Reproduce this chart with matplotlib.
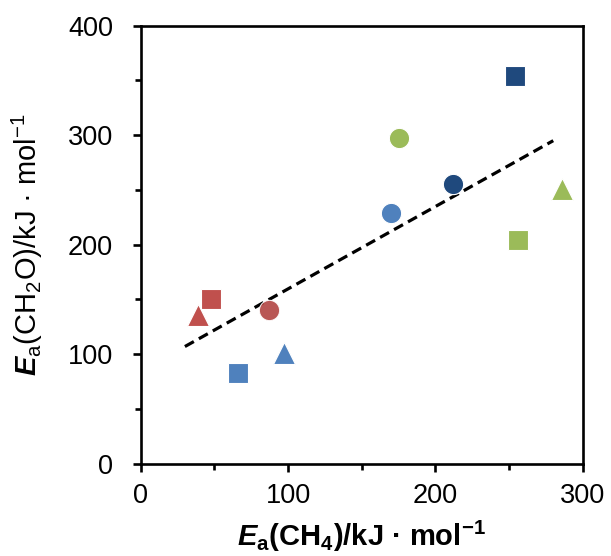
import matplotlib
matplotlib.use("Agg")
import matplotlib.pyplot as plt
from matplotlib.ticker import MultipleLocator

plt.rcParams['font.family'] = ['Liberation Sans', 'DejaVu Sans']
plt.rcParams['mathtext.fontset'] = 'custom'
plt.rcParams['mathtext.rm'] = 'Liberation Sans'
plt.rcParams['mathtext.it'] = 'Liberation Sans:italic'
plt.rcParams['mathtext.bf'] = 'Liberation Sans:bold'
plt.rcParams['mathtext.bfit'] = 'Liberation Sans:bold:italic'

# Data: (Ea(CH4), Ea(CH2O)) grouped by colour and marker
red = '#C0504D'
red_dark = '#B0403D'
blue = '#4F81BD'
navy = '#1F497D'
green = '#9BBB59'

points_x = [39, 48, 87, 66, 97, 170, 212, 254, 175, 286, 256]
points_y = [136, 150, 140, 83, 101, 229, 255, 354, 297, 251, 204]
point_colors = [red, red, red_dark, blue, blue, blue, navy, navy, green, green, green]
point_markers = ['^', 's', 'o', 's', '^', 'o', 'o', 's', 'o', '^', 's']
point_alpha = [1, 1, 0.88, 1, 1, 1, 1, 1, 1, 1, 1]

trend_x = [30, 280]
trend_y = [107, 295]

fig = plt.figure(figsize=(6.11, 5.56), dpi=100)
ax = fig.add_axes([0.2303, 0.166, 0.7234, 0.7878])

ax.plot(trend_x, trend_y, color='black', lw=2.3, dashes=(3.2, 1.8), zorder=2,
        dash_capstyle='butt')

size_map = {'s': 14.4, 'o': 14.6, '^': 15.5}
for x, y, c, m, a in zip(points_x, points_y, point_colors, point_markers, point_alpha):
    ax.plot([x], [y], marker=m, ms=size_map[m], color=c, alpha=a,
            markeredgecolor=(1, 1, 1, 0.6), markeredgewidth=0.8, ls='none', zorder=3)

ax.set_xlim(0, 300)
ax.set_ylim(0, 400)
ax.xaxis.set_major_locator(MultipleLocator(100))
ax.xaxis.set_minor_locator(MultipleLocator(50))
ax.yaxis.set_major_locator(MultipleLocator(100))
ax.yaxis.set_minor_locator(MultipleLocator(50))
ax.tick_params(which='major', direction='out', length=6, width=1.9, labelsize=19.5)
ax.tick_params(axis='x', which='major', pad=8)
ax.tick_params(axis='y', which='major', pad=14)
ax.tick_params(which='minor', direction='out', length=4, width=1.9)
for s in ax.spines.values():
    s.set_linewidth(1.9)

ax.set_xlabel('$\\mathbfit{E}_{\\mathbf{a}}$(CH$_{\\mathbf{4}}$)/kJ · mol$^{\\mathbf{\u22121}}$',
              fontsize=21, fontweight='bold', labelpad=7)
ax.set_ylabel('$\\mathbfit{E}_{\\mathrm{a}}$(CH$_{\\mathrm{2}}$O)/kJ · mol$^{\\mathrm{\u22121}}$',
              fontsize=21, fontweight='normal', labelpad=16)

fig.savefig('out.png', dpi=100)
